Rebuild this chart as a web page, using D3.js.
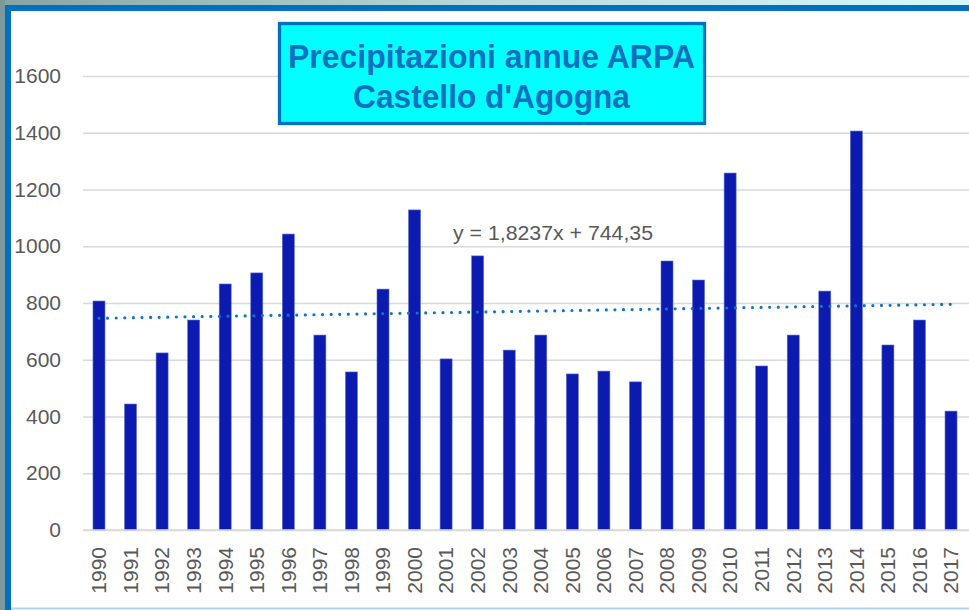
<!DOCTYPE html>
<html><head><meta charset="utf-8">
<script src="https://cdn.jsdelivr.net/npm/d3@7"></script>
<style>html,body{margin:0;padding:0;background:#fff;overflow:hidden}</style>
</head><body>
<svg id="c" width="969" height="610"></svg>
<script>
const years = ["1990","1991","1992","1993","1994","1995","1996","1997","1998","1999","2000","2001","2002","2003","2004","2005","2006","2007","2008","2009","2010","2011","2012","2013","2014","2015","2016","2017"];
const rainfall = [807,444,624,740,867,906,1043,687,557,849,1128,603,966,634,687,550,560,522,948,881,1258,578,687,842,1406,652,740,419];
const yTicks = [0,200,400,600,800,1000,1200,1400,1600];
const trendSlope = 1.8237, trendIntercept = 744.35;
const trendLabel = "y = 1,8237x + 744,35";
const titleLines = ["Precipitazioni annue ARPA","Castello d'Agogna"];

const svg = d3.select("#c");
const W = 969, H = 610;
const font = "'Liberation Sans', Arial, sans-serif";

// frame
const defs = svg.append("defs");
const g1 = defs.append("linearGradient").attr("id","topg").attr("x1","0").attr("x2","1");
g1.append("stop").attr("offset","0").attr("stop-color","#86a4a4");
g1.append("stop").attr("offset","0.5").attr("stop-color","#b9dada");
g1.append("stop").attr("offset","1").attr("stop-color","#d6fafc");
svg.append("rect").attr("width",W).attr("height",H).attr("fill","#fff");
svg.append("rect").attr("x",0).attr("y",0).attr("width",W).attr("height",5).attr("fill","url(#topg)");
svg.append("rect").attr("x",0).attr("y",0).attr("width",5).attr("height",H).attr("fill","#7d9999");
svg.append("rect").attr("x",5).attr("y",5).attr("width",W).attr("height",6).attr("fill","#0070C0");
svg.append("rect").attr("x",5).attr("y",5).attr("width",6).attr("height",H).attr("fill","#0070C0");
svg.append("line").attr("x1",11).attr("x2",W).attr("y1",608.5).attr("y2",608.5).attr("stroke","#b3d3ea").attr("stroke-width",2);

const x = d3.scaleBand().domain(years).range([83.2, 966.8]).paddingInner(0.62).paddingOuter(0.31);
const y = d3.scaleLinear().domain([0,1600]).range([530,76]);

// gridlines
const yAxis = d3.axisLeft(y).tickValues(yTicks).tickSize(-(W-83)).tickFormat(d3.format("d"));
const ga = svg.append("g").attr("transform","translate(83,0)").call(yAxis);
ga.select(".domain").remove();
ga.selectAll(".tick line").attr("stroke","#d9d9d9").attr("stroke-width",1.6);
ga.selectAll(".tick text").attr("x",-22).attr("fill","#595959").attr("font-size",21).attr("font-family",font);

// bars
svg.append("g").selectAll("rect").data(years).join("rect")
  .attr("x", d => x(d)).attr("width", x.bandwidth())
  .attr("y", (d,i) => y(rainfall[i])).attr("height", (d,i) => y(0) - y(rainfall[i]))
  .attr("fill","#0c1aaf").attr("stroke","#5a6fd0").attr("stroke-width",0.6);

// baseline redraw
svg.append("line").attr("x1",83).attr("x2",W).attr("y1",y(0)).attr("y2",y(0)).attr("stroke","#d9d9d9").attr("stroke-width",1.6);

// x labels
const xAxis = d3.axisBottom(x).tickSize(0);
const gx = svg.append("g").attr("transform","translate(0,530)").call(xAxis);
gx.select(".domain").remove();
gx.selectAll(".tick text")
  .attr("transform","translate(0,17) rotate(-90)")
  .attr("x",0).attr("y",0).attr("dy","0.35em")
  .attr("text-anchor","end")
  .attr("fill","#595959").attr("font-size",21).attr("font-family",font);

// trendline
const trend = years.map((d,i) => [x(d)+x.bandwidth()/2, y(trendSlope*(i+1)+trendIntercept)]);
svg.append("path").attr("d", d3.line()(trend))
  .attr("fill","none").attr("stroke","#1273c6").attr("stroke-width",3.2)
  .attr("stroke-linecap","round").attr("stroke-dasharray","0 8.6");

svg.append("text").attr("x",453).attr("y",240).attr("fill","#595959")
  .attr("font-size",20).attr("font-family",font).attr("textLength",200).attr("lengthAdjust","spacingAndGlyphs").text(trendLabel);

// title box
svg.append("rect").attr("x",279.5).attr("y",23.5).attr("width",425).attr("height",100)
  .attr("fill","#00FFFF").attr("stroke","#0070C0").attr("stroke-width",3.3);
const tl = [[68,407],[108,277]];
titleLines.forEach((t,i) => {
  svg.append("text").attr("x",491.5).attr("y",tl[i][0]).attr("text-anchor","middle")
    .attr("fill","#0f70c2").attr("font-weight","bold").attr("font-size",34)
    .attr("font-family",font).attr("textLength",tl[i][1]).attr("lengthAdjust","spacingAndGlyphs").text(t);
});
</script>
</body></html>
